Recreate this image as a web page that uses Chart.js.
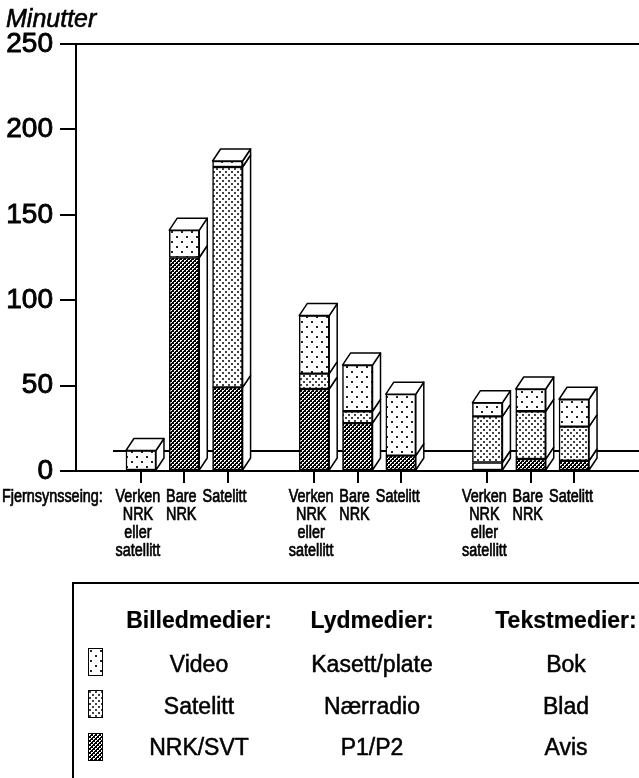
<!DOCTYPE html>
<html lang="no">
<head>
<meta charset="utf-8">
<title>Minutter</title>
<script src="https://cdn.jsdelivr.net/npm/chart.js@4.4.1/dist/chart.umd.min.js"></script>
<style>
  html, body { margin: 0; padding: 0; background: #fff; overflow: hidden; }
  #wrap { position: relative; width: 639px; height: 778px; }
  #c { position: absolute; left: 0; top: 0; }
  #legend {
    position: absolute; left: 72px; top: 582px; width: 620px; height: 240px;
    border: 2px solid #000; box-sizing: border-box;
    font-family: "Liberation Sans", Arial, sans-serif; color: #000;
  }
  .cell { position: absolute; transform: translate(-50%, -50%); white-space: nowrap; font-size: 23px; -webkit-text-stroke: 0.5px #000; }
  .head { font-weight: bold; -webkit-text-stroke: 0.2px #000; }
  .sw { position: absolute; width: 13px; height: 26px; border: 1.5px solid #000; }
</style>
</head>
<body>
<div id="wrap">
  <canvas id="c" width="639" height="778"></canvas>
  <div id="legend"></div>
</div>
<script>
// --- Data ---
const VNS = ['Verken', 'NRK', 'eller', 'satellitt'];
const kategorier = ['', VNS, ['Bare', 'NRK'], 'Satelitt', '', VNS, ['Bare', 'NRK'], 'Satelitt', '', VNS, ['Bare', 'NRK'], 'Satelitt', ''];
// nederst: NRK/SVT, P1/P2, Avis
const tett    = [null, null, 125, 49, null, 48, 28, 9, null, 5, 7, 6, null];
// midten: Satelitt, Nærradio, Blad
const middels = [null, null, null, 129, null, 9, 7, null, null, 27, 28, 20, null];
// øverst: Video, Kasett/plate, Bok
const lett    = [null, 12, 16, 3.5, null, 34, 27, 36, null, 8, 13, 16, null];
const yTicks = [0, 50, 100, 150, 200, 250];
const aksetittel = 'Minutter';
const xtittel = 'Fjernsynsseing:';
const gruppeTitler = ['Billedmedier:', 'Lydmedier:', 'Tekstmedier:'];
const serieNavn = [
  ['Video', 'Kasett/plate', 'Bok'],
  ['Satelitt', 'Nærradio', 'Blad'],
  ['NRK/SVT', 'P1/P2', 'Avis']
];

const FONT = '"Liberation Sans", Arial, sans-serif';

// --- Mønstre ---
function tile(w, h, bg, fg, dots) {
  const c = document.createElement('canvas');
  c.width = w; c.height = h;
  const g = c.getContext('2d');
  g.fillStyle = bg; g.fillRect(0, 0, w, h);
  g.fillStyle = fg;
  dots.forEach(([x, y, dw, dh]) => g.fillRect(x, y, dw, dh));
  return c;
}
const tileLett = tile(10, 10, '#fff', '#222', [[1, 1, 2, 2], [6, 6, 2, 2]]);
const tileMiddels = tile(6, 6, '#fff', '#444', [[0, 0, 2, 2], [3, 3, 2, 2]]);
const tileTett = tile(4, 4, '#000', '#fff', [[0, 0, 2, 1], [0, 1, 1, 1], [2, 2, 2, 1], [2, 3, 1, 1]]);

const ctx = document.getElementById('c').getContext('2d');
const pat = t => ctx.createPattern(t, 'repeat');

// smal tekst (Helvetica Condensed-aktig)
function smal(ctx, t, x, y, align) {
  ctx.save();
  ctx.translate(x, y);
  ctx.scale(0.8, 1);
  ctx.textAlign = align;
  ctx.fillText(t, 0, 0);
  ctx.strokeText(t, 0, 0);
  ctx.restore();
}

// --- 3D-kasser ---
const DX = 8, DY = 12;
const kube = {
  id: 'kube',
  beforeDatasetsDraw(chart) {
    const { ctx, chartArea: a } = chart;
    ctx.save();
    ctx.strokeStyle = '#000'; ctx.lineWidth = 2;
    ctx.beginPath();
    ctx.moveTo(a.left + 37, a.bottom - 20);
    ctx.lineTo(a.right, a.bottom - 20);
    ctx.stroke();
    ctx.restore();
  },
  afterDatasetsDraw(chart) {
    const { ctx } = chart;
    ctx.save();
    ctx.strokeStyle = '#000'; ctx.lineWidth = 1.5; ctx.fillStyle = '#fff'; ctx.lineJoin = 'round';
    chart.data.labels.forEach((_, i) => {
      let topp = null;
      chart.data.datasets.forEach((ds, d) => {
        if (ds.data[i] == null) return;
        const el = chart.getDatasetMeta(d).data[i];
        const r = el.x + el.width / 2;
        const t = Math.min(el.y, el.base), b = Math.max(el.y, el.base);
        ctx.beginPath();
        ctx.moveTo(r, t); ctx.lineTo(r + DX, t - DY); ctx.lineTo(r + DX, b - DY); ctx.lineTo(r, b);
        ctx.closePath(); ctx.fill(); ctx.stroke();
        if (!topp || t < topp.t) topp = { l: el.x - el.width / 2, r, t };
      });
      if (topp) {
        ctx.beginPath();
        ctx.moveTo(topp.l, topp.t); ctx.lineTo(topp.l + DX, topp.t - DY);
        ctx.lineTo(topp.r + DX, topp.t - DY); ctx.lineTo(topp.r, topp.t);
        ctx.closePath(); ctx.fill(); ctx.stroke();
      }
    });
    ctx.restore();
  },
  afterDraw(chart) {
    const { ctx, chartArea: a } = chart;
    const sx = chart.scales.x;
    ctx.save();
    ctx.fillStyle = '#000'; ctx.strokeStyle = '#000';
    ctx.textBaseline = 'alphabetic'; ctx.textAlign = 'left';
    ctx.font = 'italic 25px ' + FONT;
    ctx.lineWidth = 0.6;
    ctx.fillText(aksetittel, 6, 27);
    ctx.strokeText(aksetittel, 6, 27);
    ctx.font = '18px ' + FONT;
    ctx.lineWidth = 0.7;
    smal(ctx, xtittel, 2, a.bottom + 31, 'left');
    kategorier.forEach((lab, i) => {
      if (lab === '') return;
      const x = sx.getPixelForTick(i);
      [].concat(lab).forEach((t, j) => smal(ctx, t, x - 3, a.bottom + 31 + j * 18, 'center'));
    });
    ctx.restore();
  }
};

const ds = (data, tileC) => ({
  data, backgroundColor: pat(tileC), borderColor: '#000', borderWidth: 1.5,
  borderSkipped: false, barThickness: 30
});

const tettData = ds(tett, tileTett);
tettData.backgroundColor = tett.map((v, i) => i === 9 ? '#fff' : pat(tileTett));

new Chart(ctx, {
  type: 'bar',
  data: {
    labels: kategorier,
    datasets: [tettData, ds(middels, tileMiddels), ds(lett, tileLett)]
  },
  options: {
    responsive: false,
    animation: false,
    layout: { padding: { top: 44, right: 0, left: 0, bottom: 200 } },
    plugins: { legend: { display: false }, tooltip: { enabled: false } },
    scales: {
      x: {
        stacked: true,
        offset: true,
        afterFit: s => { s.height = 107; },
        grid: {
          drawOnChartArea: false, offset: false, tickLength: 12, lineWidth: 2,
          tickColor: c => kategorier[c.index] === '' ? 'rgba(0,0,0,0)' : '#000'
        },
        border: { display: true, color: '#000', width: 2 },
        ticks: { display: false, autoSkip: false, maxRotation: 0 }
      },
      y: {
        stacked: true, min: 0, max: 250,
        afterBuildTicks: s => { s.ticks = yTicks.map(v => ({ value: v })); },
        afterFit: s => { s.width = 76; },
        grid: {
          color: c => (c.tick && c.tick.value === 250) ? '#000' : 'rgba(0,0,0,0)',
          lineWidth: 2, tickLength: 16, tickColor: '#000', tickWidth: 2
        },
        border: { display: true, color: '#000', width: 2 },
        ticks: {
          color: '#000', padding: 7, font: { family: FONT, size: 28 },
          textStrokeColor: '#000', textStrokeWidth: 0.9
        }
      }
    }
  },
  plugins: [kube]
});

// --- Forklaring ---
const legend = document.getElementById('legend');
const kolX = [125, 298, 492];
const radY = [36, 80, 122, 163];
const swY = [64, 106, 149];
const tiles = [tileLett, tileMiddels, tileTett];
function cell(txt, x, y, cls) {
  const d = document.createElement('div');
  d.className = 'cell ' + (cls || '');
  d.textContent = txt;
  d.style.left = x + 'px'; d.style.top = y + 'px';
  legend.appendChild(d);
}
gruppeTitler.forEach((t, k) => cell(t, kolX[k], radY[0], 'head'));
serieNavn.forEach((rad, r) => {
  rad.forEach((t, k) => cell(t, kolX[k], radY[r + 1]));
  const s = document.createElement('div');
  s.className = 'sw';
  s.style.left = '14px'; s.style.top = swY[r] + 'px';
  s.style.background = 'url(' + tiles[r].toDataURL() + ')';
  legend.appendChild(s);
});
</script>
</body>
</html>
